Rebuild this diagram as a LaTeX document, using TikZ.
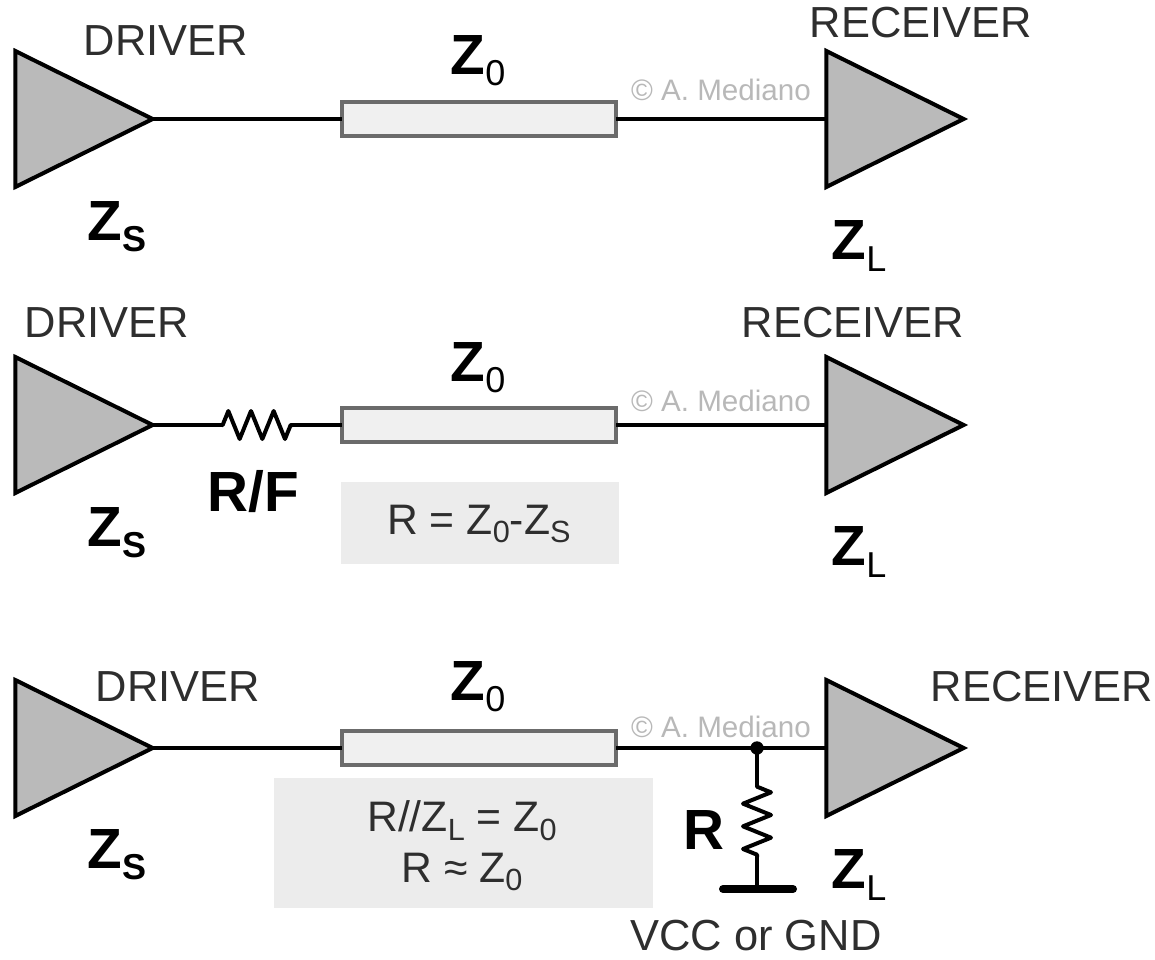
\documentclass[tikz,border=0pt]{standalone}
\usepackage{fontspec}
\setmainfont{Liberation Sans}
\usetikzlibrary{shapes.geometric}
\usetikzlibrary{decorations.pathmorphing}
\definecolor{ampfill}{gray}{.73}
\definecolor{linefill}{gray}{.94}
\definecolor{linedraw}{gray}{.42}
\definecolor{notefill}{gray}{.925}
\definecolor{markgray}{gray}{.72}
\definecolor{labelgray}{gray}{.18}
% bold Z with a lowered index
\newcommand{\zsub}[1]{Z\raisebox{-.2em}{\fontsize{27pt}{27pt}\selectfont #1}}
\newcommand{\zthin}[1]{\textbf{Z}\raisebox{-.2em}{\fontsize{27pt}{27pt}\selectfont\mdseries #1}}
\newcommand{\nsub}[1]{\raisebox{-.2em}{\fontsize{23pt}{23pt}\selectfont #1}}
\begin{document}
\begin{tikzpicture}[x=.75pt,y=-.75pt,
  amp/.style={isosceles triangle,isosceles triangle apex angle=53.13,isosceles triangle stretches,
    minimum width=102pt,minimum height=103pt,inner sep=0pt,outer sep=0pt,
    draw=black,line width=3pt,fill=ampfill,line join=miter},
  tline/.style={rectangle,minimum width=206pt,minimum height=25pt,inner sep=0pt,outer sep=0pt,
    draw=linedraw,line width=3.2pt,fill=linefill},
  notebox/.style={fill=notefill,inner sep=0pt,outer sep=0pt},
  wire/.style={line width=3pt,black},
  resistor/.style={wire,line join=round,decorate,
    decoration={zigzag,segment length=17pt,amplitude=10.5pt,pre length=.5pt,post length=.5pt}},
  devname/.style={font=\fontsize{32.6pt}{36pt}\selectfont,text=labelgray,inner sep=0pt},
  bigz/.style={font=\fontsize{42.5pt}{46pt}\selectfont\bfseries,inner sep=0pt},
  credit/.style={font=\fontsize{22.2pt}{24pt}\selectfont,text=markgray,inner sep=0pt},
  notetext/.style={font=\fontsize{32pt}{38pt}\selectfont,text=labelgray,align=center,inner sep=0pt}]
\useasboundingbox (0,0) rectangle (1155,959);
% ---- rows: line height of each circuit
\def\ya{119} \def\yb{425} \def\yc{748}
\def\xa{57.5} \def\xb{479} \def\xc{868.5}
% ---- top circuit
\node[amp] (drva) at (\xa,\ya) {};
\node[tline] (lina) at (\xb,\ya) {};
\node[amp] (reca) at (\xc,\ya) {};
\draw[wire] (drva.apex) -- (lina.west);
\draw[wire] (lina.east) -- (reca.lower side);
\node[devname] (dna) at (166,41) {DRIVER};
\node[devname] (rna) at (921,23) {RECEIVER};
\node[bigz] (zoa) at (478,61) {\zthin{0}};
\node[bigz] (zsa) at (117,227) {\zsub{S}};
\node[bigz] (zla) at (859,246) {\zthin{L}};
\node[credit] (cra) at (721,90) {© A. Mediano};
% ---- middle circuit
\node[notebox,minimum width=208.5pt,minimum height=61.5pt] (notb) at (480,523) {};
\node[amp] (drvb) at (\xa,\yb) {};
\node[tline] (linb) at (\xb,\yb) {};
\node[amp] (recb) at (\xc,\yb) {};
\coordinate (rba) at (222,\yb);
\coordinate (rbb) at (293,\yb);
\draw[wire] (drvb.apex) -- (rba);
\draw[resistor] (rba) -- (rbb);
\draw[wire] (rbb) -- (linb.west);
\draw[wire] (linb.east) -- (recb.lower side);
\node[devname] (dnb) at (107,323) {DRIVER};
\node[devname] (rnb) at (853,323) {RECEIVER};
\node[bigz] (zob) at (478,368) {\zthin{0}};
\node[bigz] (rfb) at (253,492) {R/F};
\node[bigz] (zsb) at (117,533) {\zsub{S}};
\node[bigz] (zlb) at (859,552) {\zthin{L}};
\node[credit] (crb) at (721,401) {© A. Mediano};
\node[notetext] (ntb) at (479,524) {R = Z\nsub{0}-Z\nsub{S}};
% ---- bottom circuit
\node[notebox,minimum width=284.5pt,minimum height=97.5pt] (notc) at (463.5,843) {};
\node[amp] (drvc) at (\xa,\yc) {};
\node[tline] (linc) at (\xb,\yc) {};
\node[amp] (recc) at (\xc,\yc) {};
\coordinate (jnc) at (757,\yc);
\coordinate (rca) at (757,786);
\coordinate (rcb) at (757,857);
\coordinate (gnd) at (757,889);
\coordinate (gla) at (723,889);
\coordinate (glb) at (793,889);
\draw[wire] (drvc.apex) -- (linc.west);
\draw[wire] (linc.east) -- (recc.lower side);
\draw[wire] (jnc) -- (rca);
\draw[resistor] (rca) -- (rcb);
\draw[wire] (rcb) -- (gnd);
\draw[line width=6pt,line cap=round] (gla) -- (glb);
\fill (jnc) circle (5pt);
\node[devname] (dnc) at (178,687) {DRIVER};
\node[devname] (rnc) at (1042,687) {RECEIVER};
\node[bigz] (zoc) at (478,687) {\zthin{0}};
\node[bigz] (rlc) at (704,830) {R};
\node[bigz] (zsc) at (117,855) {\zsub{S}};
\node[bigz] (zlc) at (859,875) {\zthin{L}};
\node[credit] (crc) at (721,727) {© A. Mediano};
\node[notetext] (ntc) at (462,846) {R//Z\nsub{L} = Z\nsub{0}\\R ≈ Z\nsub{0}};
\node[devname] (vcc) at (756,936) {VCC or GND};
\end{tikzpicture}
\end{document}
